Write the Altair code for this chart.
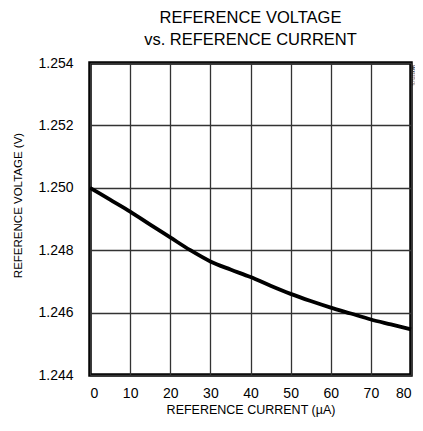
import altair as alt
import pandas as pd

current_ua = [0, 5, 10, 15, 20, 25, 30, 35, 40, 45, 50, 55, 60, 65, 70, 75, 80]
voltage_v = [1.2500, 1.24962, 1.24924, 1.24882, 1.24841, 1.24800, 1.24764, 1.24738, 1.24714,
             1.24686, 1.24660, 1.24637, 1.24616, 1.24597, 1.24578, 1.24562, 1.24546]

x_ticks = [0, 10, 20, 30, 40, 50, 60, 70, 80]
y_ticks = [1.244, 1.246, 1.248, 1.250, 1.252, 1.254]

df = pd.DataFrame({"I": current_ua, "V": voltage_v})

FONT = "Liberation Sans"

line = alt.Chart(df).mark_line(color="black", strokeWidth=3.8, interpolate="monotone").encode(
    x=alt.X("I:Q",
            scale=alt.Scale(domain=[0, 80], nice=False, zero=False),
            axis=alt.Axis(values=x_ticks, title="REFERENCE CURRENT (\u00b5A)", format="d",
                          grid=True, gridColor="#333", gridWidth=1.3, gridOpacity=1,
                          domain=False, ticks=False, labelPadding=11,
                          labelFont=FONT, labelFontSize=14, labelColor="black",
                          titleFont=FONT, titleFontSize=12.5, titleFontWeight="normal",
                          titleColor="black", titlePadding=3)),
    y=alt.Y("V:Q",
            scale=alt.Scale(domain=[1.244, 1.254], nice=False, zero=False),
            axis=alt.Axis(values=y_ticks, title="REFERENCE VOLTAGE (V)", format=".3f",
                          grid=True, gridColor="#333", gridWidth=1.3, gridOpacity=1,
                          domain=False, ticks=False, labelPadding=17,
                          labelFont=FONT, labelFontSize=14, labelColor="black",
                          titleFont=FONT, titleFontSize=11.5, titleFontWeight="normal",
                          titleColor="black", titleX=-72, titleY=142,
                          titleAlign="center", titleBaseline="middle", titleAngle=270)),
)

mark_id = alt.Chart(pd.DataFrame({"t": ["MAX6325-05"]})).mark_text(
    angle=90, fontSize=3.5, font=FONT, color="black", align="left", baseline="top"
).encode(x=alt.value(325), y=alt.value(2), text="t:N")

chart = (line + mark_id).properties(
    width=321, height=312,
    title=alt.TitleParams(["REFERENCE VOLTAGE", "vs.  REFERENCE CURRENT"],
                          font=FONT, fontSize=16.5, fontWeight="normal", color="black",
                          anchor="middle", offset=8, lineHeight=22),
    autosize=alt.AutoSizeParams(type="none"),
    padding={"left": 82, "top": 55, "right": 4, "bottom": 44},
).configure_view(stroke="black", strokeWidth=3.5)

chart.save("out.html", embed_options={"renderer": "svg", "actions": False})
